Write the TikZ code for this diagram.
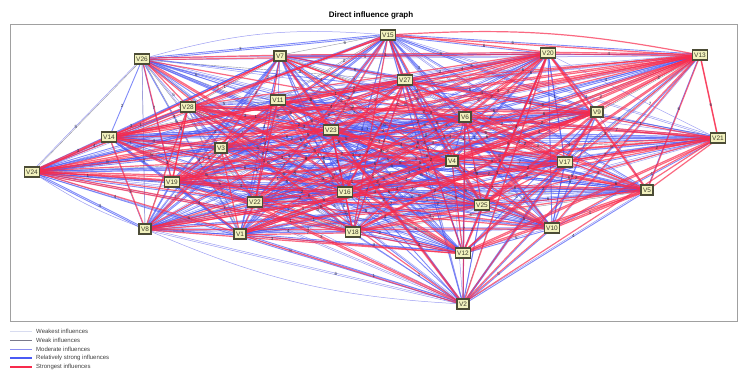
\documentclass[tikz,border=0pt]{standalone}
\usepackage{fontspec}
\setmainfont{Liberation Sans}
\pgfdeclarelayer{bg}
\pgfsetlayers{bg,main}
\definecolor{redE}{HTML}{F82A4C}
\definecolor{blueE}{HTML}{4A5AF5}
\definecolor{modE}{HTML}{8A8CF0}
\definecolor{weakE}{HTML}{7A7A8A}
\definecolor{weakestE}{HTML}{D8DCF0}
\definecolor{nodeFill}{HTML}{F2F2BE}
\definecolor{nodeDraw}{HTML}{4C4C36}
\definecolor{frameC}{HTML}{A0A0A0}
\definecolor{lblC}{HTML}{2E3050}
\tikzset{
 vbox/.style={draw=nodeDraw, line width=1.1pt, fill=nodeFill, text=nodeDraw!80!black, font=\fontsize{6.5}{7}\selectfont, inner xsep=2pt, inner ysep=1.2pt, minimum height=10pt},
 e4/.style={draw=redE, line width=1.2pt, opacity=0.7},
 e3/.style={draw=blueE, line width=0.9pt, opacity=0.7},
 e2/.style={draw=modE, line width=0.5pt, opacity=0.85},
 e1/.style={draw=weakE, line width=0.4pt, opacity=0.8},
 elbl/.style={font=\fontsize{4.5}{4.5}\selectfont, text=lblC, inner sep=0.3pt},
 legtxt/.style={font=\fontsize{6}{6}\selectfont, text=black!75, anchor=west, inner sep=0pt},
}
\newif\ifhit
\def\wl{{0.5,0.35,0.45,0.6,0.75,0.5,0.45,0.8,0.55,0.35,0.45,0.45,0.85,0.7,0.6,0.45,0.45,0.4,0.6,0.7,0.35,0.45,0.45,0.95,0.6,0.1,0.5,0.55}}
\def\xl{{240,463,221,452,647,465,280,145,597,552,278,463,700,109,388,345,565,353,172,548,718,255,331,32,482,142,405,188}}
\def\yl{{234,304,148,161,190,117,56,229,112,228,100,253,55,137,35,192,162,232,182,53,138,202,130,172,205,59,80,107}}
\newcommand\edgecat{%
  \pgfmathtruncatemacro\hh{mod(mod(\i*\j*11,100)+mod(\j*\j*13,100)+mod(\i*\i*7,100)+3*\i+17*\j,100)}%
  \pgfmathtruncatemacro\hb{mod(mod(\i*\j*17,100)+mod(\i*\i*13,100)+mod(\j*\j*7,100)+11*\i+5*\j+41,100)}%
  \pgfmathtruncatemacro\ia{\i-1}%
  \pgfmathtruncatemacro\ja{\j-1}%
  \pgfmathsetmacro\wa{\wl[\ia]}%
  \pgfmathsetmacro\wb{\wl[\ja]}%
  \pgfmathsetmacro\pp{(0.7*\wa+0.3*\wb)*62}%
  \pgfmathsetmacro\pq{(0.3*\wa+0.7*\wb)*62}%
  \pgfmathtruncatemacro\cat{ifthenelse(\hh<\pp,4,ifthenelse(\hh<\pp+30,3,ifthenelse(\hh<\pp+52,2,ifthenelse(\hh<\pp+60,1,0))))}%
  \pgfmathtruncatemacro\catb{ifthenelse(\hb<\pq,4,ifthenelse(\hb<\pq+30,3,ifthenelse(\hb<\pq+52,2,ifthenelse(\hb<\pq+60,1,0))))}%
}
\newcommand\edgepass[1]{%
 \foreach \i in {1,...,27}{%
  \pgfmathtruncatemacro\ii{\i+1}%
  \foreach \j in {\ii,...,28}{%
   \edgecat
   \ifnum\cat=#1\relax \draw[e#1] ([yshift=-0.8pt]n\i.center) -- ([yshift=-0.8pt]n\j.center);\fi
   \ifnum\catb=#1\relax \draw[e#1] ([yshift=0.8pt]n\j.center) -- ([yshift=0.8pt]n\i.center);\fi
  }%
 }%
}
% test whether point (\lx,\ly) is near any node
\newcommand\testhit{%
  \global\hitfalse
  \foreach \k in {0,...,27}{%
    \pgfmathsetmacro\xk{\xl[\k]}\pgfmathsetmacro\yk{\yl[\k]}%
    \pgfmathtruncatemacro\near{and(abs(\lx-\xk)<17,abs(\ly-\yk)<9)}%
    \ifnum\near=1\relax\global\hittrue\fi
  }%
}
\newcommand\labelpass{%
 \foreach \i in {1,...,27}{%
  \pgfmathtruncatemacro\ii{\i+1}%
  \foreach \j in {\ii,...,28}{%
   \edgecat
   \pgfmathsetmacro\xa{\xl[\ia]}\pgfmathsetmacro\xb{\xl[\ja]}%
   \pgfmathsetmacro\ya{\yl[\ia]}\pgfmathsetmacro\yb{\yl[\ja]}%
   \pgfmathtruncatemacro\dist{veclen(\xa-\xb,\ya-\yb)}%
   \pgfmathtruncatemacro\mm{mod(\hh,2)}%
   \pgfmathtruncatemacro\mb{mod(\hb,2)}%
   \pgfmathtruncatemacro\dd{mod(\i+3*\j,7)+1}%
   \pgfmathtruncatemacro\db{mod(2*\i+\j,6)+1}%
   \pgfmathsetmacro\ps{ifthenelse(mod(\i+\j,2)==0,0.4,0.6)}%
   \ifnum\dist>80\relax
   \ifnum\cat>0\relax\ifnum\mm=0\relax
     \pgfmathsetmacro\lx{\xa+\ps*(\xb-\xa)}\pgfmathsetmacro\ly{\ya+\ps*(\yb-\ya)}%
     \testhit
     \ifhit\else\path (n\i.center) -- node[elbl,pos=\ps]{\dd} (n\j.center);\fi
   \fi\fi
   \ifnum\catb>0\relax\ifnum\mb=0\relax
     \pgfmathsetmacro\lx{\xb+\ps*(\xa-\xb)}\pgfmathsetmacro\ly{\yb+\ps*(\ya-\yb)}%
     \testhit
     \ifhit\else\path (n\j.center) -- node[elbl,pos=\ps]{\db} (n\i.center);\fi
   \fi\fi
   \fi
  }%
 }%
}
\begin{document}
\begin{tikzpicture}[x=1pt,y=-1pt]
\useasboundingbox (0,0) rectangle (742,372);
\node[font=\bfseries\fontsize{8}{8}\selectfont, inner sep=0pt] (title) at (371,15) {Direct influence graph};
\draw[frameC, line width=1pt] (10,24) rectangle (737,321);
% nodes
\node[vbox] (n1) at (240,234) {V1};
\node[vbox] (n2) at (463,304) {V2};
\node[vbox] (n3) at (221,148) {V3};
\node[vbox] (n4) at (452,161) {V4};
\node[vbox] (n5) at (647,190) {V5};
\node[vbox] (n6) at (465,117) {V6};
\node[vbox] (n7) at (280,56) {V7};
\node[vbox] (n8) at (145,229) {V8};
\node[vbox] (n9) at (597,112) {V9};
\node[vbox] (n10) at (552,228) {V10};
\node[vbox] (n11) at (278,100) {V11};
\node[vbox] (n12) at (463,253) {V12};
\node[vbox] (n13) at (700,55) {V13};
\node[vbox] (n14) at (109,137) {V14};
\node[vbox] (n15) at (388,35) {V15};
\node[vbox] (n16) at (345,192) {V16};
\node[vbox] (n17) at (565,162) {V17};
\node[vbox] (n18) at (353,232) {V18};
\node[vbox] (n19) at (172,182) {V19};
\node[vbox] (n20) at (548,53) {V20};
\node[vbox] (n21) at (718,138) {V21};
\node[vbox] (n22) at (255,202) {V22};
\node[vbox] (n23) at (331,130) {V23};
\node[vbox] (n24) at (32,172) {V24};
\node[vbox] (n25) at (482,205) {V25};
\node[vbox] (n26) at (142,59) {V26};
\node[vbox] (n27) at (405,80) {V27};
\node[vbox] (n28) at (188,107) {V28};
\begin{pgfonlayer}{bg}
\edgepass{1}
\edgepass{2}
\edgepass{3}
\draw[e2] (n26) to[bend left=10] (n15);
\draw[e2] (n8) to[bend right=10] (n2);
\draw[e2] (n24) to[bend right=6] (n8);
\edgepass{4}
\draw[e4] (n15) to[bend left=7] (n13);
\labelpass
\end{pgfonlayer}
% legend
\draw[weakestE, line width=0.7pt] (10,331) -- (32,331) coordinate (l1);
\node[legtxt] (t1) at (36,331) {Weakest influences};
\draw[weakE, line width=0.5pt] (10,340) -- (32,340) coordinate (l2);
\node[legtxt] (t2) at (36,340) {Weak influences};
\draw[modE, line width=0.7pt] (10,349) -- (32,349) coordinate (l3);
\node[legtxt] (t3) at (36,349) {Moderate influences};
\draw[blueE, line width=1.4pt] (10,358) -- (32,358) coordinate (l4);
\node[legtxt] (t4) at (36,358) {Relatively strong influences};
\draw[redE, line width=1.4pt] (10,367) -- (32,367) coordinate (l5);
\node[legtxt] (t5) at (36,367) {Strongest influences};
\end{tikzpicture}
\end{document}
